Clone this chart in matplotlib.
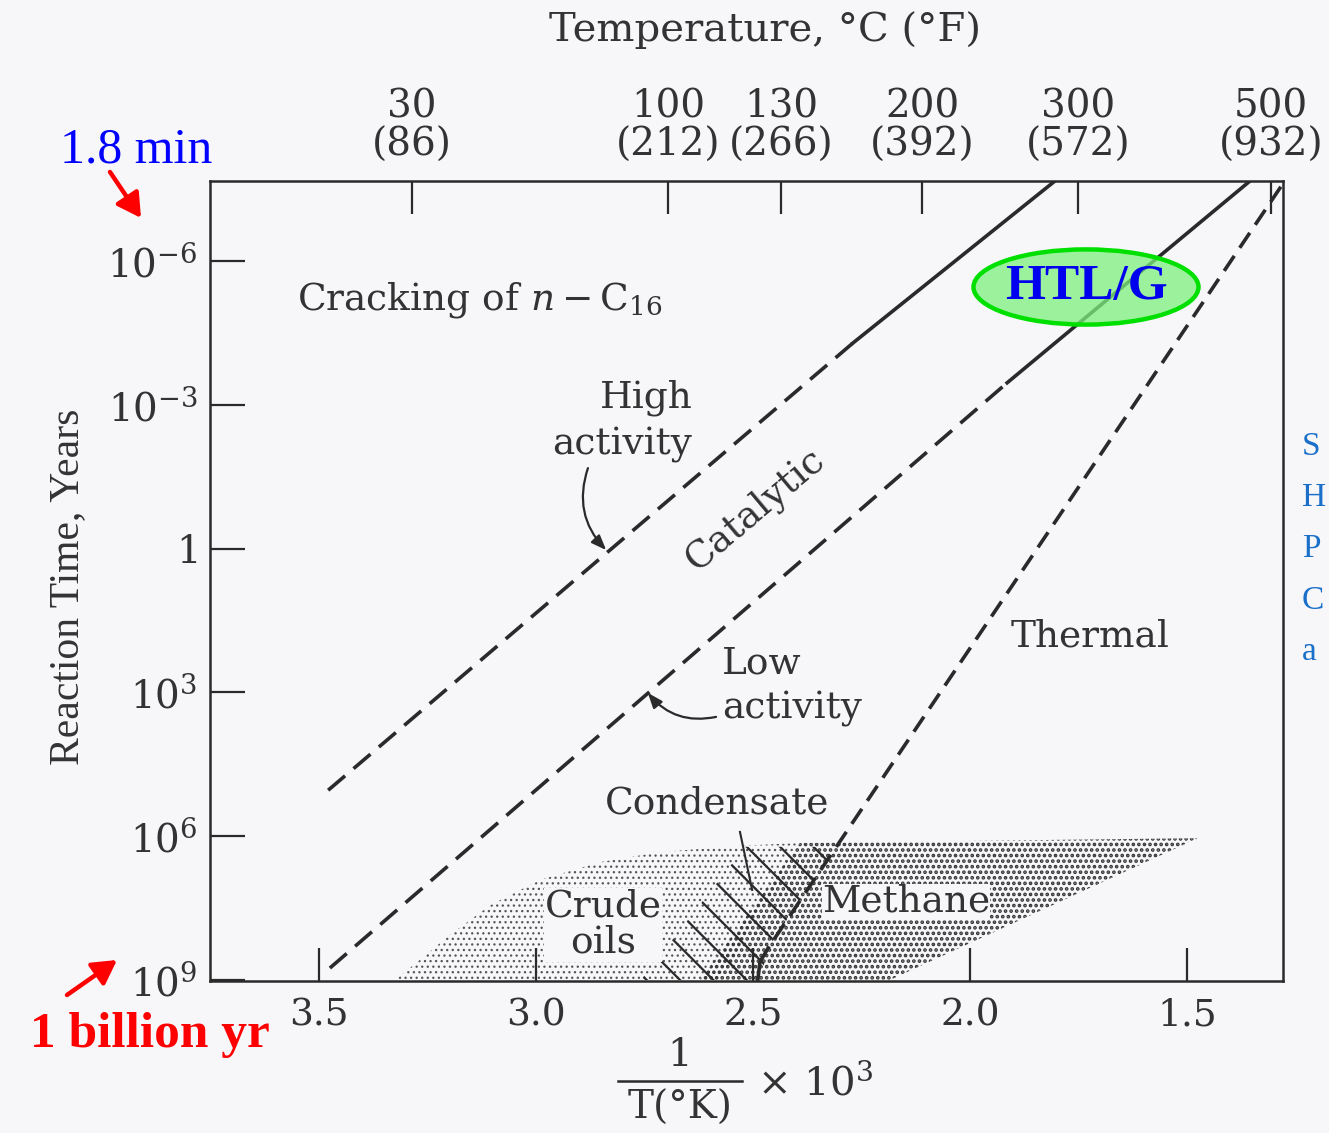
import matplotlib
matplotlib.use("Agg")
import matplotlib.pyplot as plt
from matplotlib.patches import Ellipse, Polygon, FancyArrowPatch
from matplotlib.lines import Line2D
from matplotlib.ticker import NullLocator, FixedLocator, FixedFormatter
import numpy as np

plt.rcParams['font.family'] = ['DejaVu Serif']
plt.rcParams['mathtext.fontset'] = 'dejavuserif'
plt.rcParams['lines.scale_dashes'] = False

INK = '#2a2a2a'
TXT = '#333333'
BG = '#f7f7fa'

# ---- data: x = 1000 / T(K), y = log10(reaction time, years) ----
x_ticks = [3.5, 3.0, 2.5, 2.0, 1.5]
x_tick_labels = ['3.5', '3.0', '2.5', '2.0', '1.5']

y_tick_exp = [-6, -3, 0, 3, 6, 9]
y_tick_labels = [r'$10^{-6}$', r'$10^{-3}$', r'$1$', r'$10^{3}$', r'$10^{6}$', r'$10^{9}$']

temp_tick_pos = [3.285, 2.696, 2.436, 2.111, 1.752, 1.308]
temp_c = [30, 100, 130, 200, 300, 500]
temp_f = [86, 212, 266, 392, 572, 932]

# catalytic cracking, high activity catalyst (dashed part, then solid part)
high_dash_x = [3.478, 2.270]
high_dash_logt = [5.04, -4.29]
high_solid_x = [2.270, 1.805]
high_solid_logt = [-4.29, -7.67]

# catalytic cracking, low activity catalyst
low_dash_x = [3.474, 1.915]
low_dash_logt = [8.75, -3.46]
low_solid_x = [1.915, 1.356]
low_solid_logt = [-3.46, -7.67]

# thermal cracking
thermal_dash_x = [1.285, 2.465]
thermal_dash_logt = [-7.55, 8.33]
thermal_solid_x = [2.465, 2.484, 2.489]
thermal_solid_logt = [8.33, 8.62, 9.0]

# occurrence regions
crude_x = [3.324, 3.267, 3.198, 3.105, 2.990, 2.852, 2.714, 2.530, 2.392, 2.576]
crude_logt = [9.0, 8.58, 8.06, 7.44, 6.91, 6.54, 6.33, 6.20, 6.14, 9.0]
methane_x = [2.622, 2.392, 1.476, 2.185]
methane_logt = [9.0, 6.14, 6.04, 9.0]
condensate_x = [2.758, 2.484, 2.465, 2.311, 2.518]
condensate_logt = [9.0, 9.0, 8.33, 6.22, 6.22]

W, H = 1329, 1133
fig = plt.figure(figsize=(W / 100, H / 100), dpi=100, facecolor=BG)
ax = fig.add_axes([210 / W, 1 - 981 / H, (1283 - 210) / W, 800 / H])
ax.set_facecolor(BG)


def yv(logs):
    return np.power(10.0, np.asarray(logs, dtype=float))


def fpx(px, py):
    return px / W, 1 - py / H


ax.set_yscale('log')
ax.set_xlim(3.75, 1.28)
ax.set_ylim(10 ** 9.02, 10 ** -7.67)

# shaded regions (hatch line width is taken when each patch is made)
plt.rcParams['hatch.linewidth'] = 0.9
ax.add_patch(Polygon(np.column_stack([crude_x, yv(crude_logt)]), closed=True,
                     facecolor='none', edgecolor='#555555', linewidth=0,
                     hatch='...', zorder=1))
plt.rcParams['hatch.linewidth'] = 1.8
ax.add_patch(Polygon(np.column_stack([methane_x, yv(methane_logt)]), closed=True,
                     facecolor='none', edgecolor='#333333', linewidth=0,
                     hatch='...', zorder=1))
plt.rcParams['hatch.linewidth'] = 1.6
ax.add_patch(Polygon(np.column_stack([condensate_x, yv(condensate_logt)]), closed=True,
                     facecolor='none', edgecolor='#2a2a2a', linewidth=0,
                     hatch='\\', zorder=1))

lw = 2.6
dash = (16, 8)
ax.plot(high_dash_x, yv(high_dash_logt), color=INK, lw=lw, dashes=dash, zorder=3)
ax.plot(high_solid_x, yv(high_solid_logt), color=INK, lw=lw, zorder=3)
ax.plot(low_dash_x, yv(low_dash_logt), color=INK, lw=lw, dashes=dash, zorder=3)
ax.plot(low_solid_x, yv(low_solid_logt), color=INK, lw=lw, zorder=3)
ax.plot(thermal_dash_x, yv(thermal_dash_logt), color=INK, lw=lw, dashes=(13, 7), zorder=3)
ax.plot(thermal_solid_x, yv(thermal_solid_logt), color=INK, lw=lw, zorder=3)

# axes styling
for s in ax.spines.values():
    s.set_linewidth(1.8)
    s.set_color(INK)

ax.xaxis.set_major_locator(FixedLocator(x_ticks))
ax.xaxis.set_major_formatter(FixedFormatter(x_tick_labels))
ax.xaxis.set_minor_locator(NullLocator())
ax.yaxis.set_major_locator(FixedLocator(yv(y_tick_exp)))
ax.yaxis.set_major_formatter(FixedFormatter(y_tick_labels))
ax.yaxis.set_minor_locator(NullLocator())
ax.tick_params(axis='x', direction='in', length=24, width=1.6, color=INK,
               labelsize=27, labelcolor=TXT, pad=12, top=False)
ax.tick_params(axis='y', direction='in', length=25, width=1.6, color=INK,
               labelsize=28, labelcolor=TXT, pad=9, right=False)

sec = ax.secondary_xaxis('top')
sec.set_xticks(temp_tick_pos,
               [f'{c}\n({f})' for c, f in zip(temp_c, temp_f)])
sec.tick_params(direction='in', length=24, width=1.6, color=INK,
                labelsize=28, labelcolor=TXT, pad=12)
for lab in sec.get_xticklabels():
    lab.set_linespacing(1.05)
sec.spines['top'].set_visible(False)

# axis titles
fig.text(*fpx(765, 30), 'Temperature, °C (°F)', ha='center', va='center',
         fontsize=29, color=TXT)
fig.text(*fpx(68, 587), 'Reaction Time, Years', ha='center', va='center',
         rotation=90, fontsize=30, color=TXT, family='Liberation Serif')
fig.text(*fpx(680, 1056), '1', ha='center', va='center', fontsize=28, color=TXT)
fig.add_artist(Line2D([618 / W, 742 / W], [1 - 1081 / H, 1 - 1081 / H],
                      transform=fig.transFigure, color=INK, lw=1.8))
fig.text(*fpx(680, 1108), 'T(°K)', ha='center', va='center', fontsize=28, color=TXT)
fig.text(*fpx(815, 1083), r'$\times\ 10^{3}$', ha='center', va='center',
         fontsize=29, color=TXT)

# in-plot labels
txt = dict(color=TXT, fontsize=27)
ax.text(3.55, 10 ** -5.19, r'Cracking of $n-$C$_{16}$', ha='left', va='center', **txt)
ax.text(2.640, 10 ** -2.66, 'High\nactivity', ha='right', va='center',
        multialignment='right', linespacing=1.35, **txt)
ax.text(2.495, 10 ** -0.81, 'Catalytic', ha='center', va='center', rotation=40, **txt)
ax.text(2.571, 10 ** 2.87, 'Low\nactivity', ha='left', va='center',
        linespacing=1.35, **txt)
ax.text(1.908, 10 ** 1.84, 'Thermal', ha='left', va='center', **txt)
ax.text(2.841, 10 ** 5.31, 'Condensate', ha='left', va='center', **txt)
ax.text(2.845, 10 ** 7.85, 'Crude\noils', ha='center', va='center',
        linespacing=1.0, zorder=4,
        bbox=dict(boxstyle='square,pad=0.02', facecolor=BG, edgecolor='none'), **txt)
ax.text(2.341, 10 ** 7.37, 'Methane', ha='left', va='center', zorder=4,
        bbox=dict(boxstyle='square,pad=0.0', facecolor=BG, edgecolor='none'), **txt)

ax.plot([2.530, 2.502], yv([5.91, 7.12]), color=INK, lw=1.5, zorder=3)

arrow = dict(arrowstyle='-|>,head_length=0.9,head_width=0.35', color=INK, lw=1.6,
             shrinkA=0, shrinkB=0)
ax.annotate('', xy=(2.838, 10 ** 0.03), xytext=(2.880, 10 ** -1.68),
            arrowprops=dict(connectionstyle='arc3,rad=0.3', **arrow), zorder=4)
ax.annotate('', xy=(2.742, 10 ** 3.01), xytext=(2.585, 10 ** 3.51),
            arrowprops=dict(connectionstyle='arc3,rad=-0.3', **arrow), zorder=4)

# HTL/G marker
ax.add_patch(Ellipse((0.8164, 0.8675), 0.2097, 0.094, transform=ax.transAxes,
                     facecolor='#7ef07e', alpha=0.75, edgecolor='none', zorder=5))
ax.add_patch(Ellipse((0.8164, 0.8675), 0.2097, 0.094, transform=ax.transAxes,
                     facecolor='none', edgecolor='#00e000', lw=3.2, zorder=6))
ax.text(0.8164, 0.8675, 'HTL/G', transform=ax.transAxes, ha='center', va='center',
        fontsize=37, fontweight='bold', color='#0000ee', family='Liberation Serif',
        zorder=7)

# time-scale call-outs
fig.text(*fpx(136, 150), '1.8 min', ha='center', va='center', fontsize=36,
         color='#0000ff', family='Liberation Serif')
fig.text(*fpx(150, 1035), '1 billion yr', ha='center', va='center', fontsize=37,
         color='#ff0000', fontweight='bold', family='Liberation Serif')
red_arrow = dict(arrowstyle='-|>,head_length=0.8,head_width=0.45', color='#ff0000',
                 lw=3.2, shrinkA=0, shrinkB=0, mutation_scale=18)
fig.add_artist(FancyArrowPatch(fpx(110, 172), fpx(141, 218),
                               transform=fig.transFigure, **red_arrow))
fig.add_artist(FancyArrowPatch(fpx(67, 995), fpx(117, 960),
                               transform=fig.transFigure, **red_arrow))

# side notes at the right margin
for letter, py in zip(['S', 'H', 'P', 'C', 'a'], [447, 498, 549, 601, 652]):
    fig.text(*fpx(1302, py), letter, ha='left', va='center', fontsize=24,
             color='#1a6fc8', family='Liberation Serif')

fig.savefig('out.png', dpi=100, facecolor=BG)
